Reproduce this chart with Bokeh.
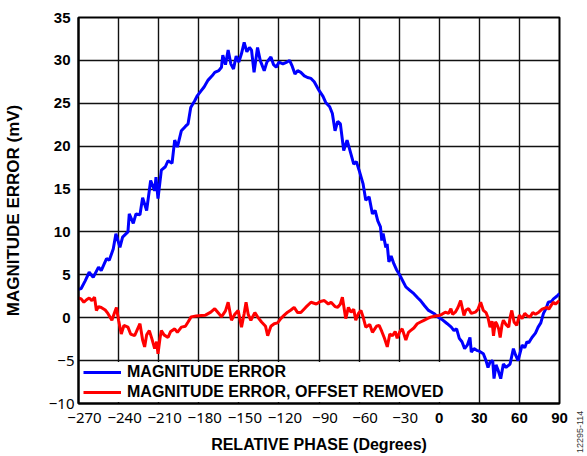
from bokeh.plotting import figure
from bokeh.models import (Range1d, FixedTicker, Legend, LegendItem, LinearAxis, Div)
from bokeh.layouts import row
from bokeh.embed import file_html
from bokeh.resources import INLINE

# ---------------- data ----------------
x_ticks = [-270, -240, -210, -180, -150, -120, -90, -60, -30, 0, 30, 60, 90]
x_tick_labels = ["\u2212270", "\u2212240", "\u2212210", "\u2212180", "\u2212150", "\u2212120",
                 "\u221290", "\u221260", "\u221230", "0", "30", "60", "90"]
y_ticks = [-10, -5, 0, 5, 10, 15, 20, 25, 30, 35]
y_tick_labels = ["\u221210", "\u22125", "0", "5", "10", "15", "20", "25", "30", "35"]

blue_phase = [-270, -268, -265, -262, -259, -255, -253, -249, -247, -244, -242, -239, -237, -233,
              -232, -229, -227, -224, -222, -219, -216, -213, -212, -210.5, -208, -205, -203, -200,
              -198, -196, -193, -190, -188, -186, -183, -181, -178, -176, -173, -170, -168, -165,
              -163, -162, -160, -158, -156, -154, -152, -150, -148, -146, -144, -142, -140.5,
              -138.6, -136, -134, -131, -129, -126, -124, -122, -120, -117, -114, -112, -110, -108,
              -106, -103.6, -101, -98.6, -96, -93.6, -90, -87, -85, -82, -80, -78, -76, -74, -71.5,
              -69, -67, -64, -62, -60, -57, -55, -52.5, -50, -48, -46, -44, -43, -42, -40, -39,
              -37.7, -36, -34, -32, -30, -29, -27, -25, -22, -19, -16, -14, -11, -8, -4, -1, 2, 6,
              9, 11, 13, 15, 17, 19, 21, 23, 24, 26, 28, 30, 33, 35, 36.5, 38, 40, 41, 42.5, 44, 46,
              48, 50, 53, 55.5, 57, 59, 62, 64, 65.6, 67, 69.4, 72, 74, 76, 78, 80, 81.6, 84, 85.5,
              88, 90]
blue_mv = [3.3, 3.4, 4.3, 5.3, 4.7, 5.9, 5.5, 6.9, 6.7, 8.0, 9.8, 8.2, 9.4, 10.0,
           12.1, 11.0, 12.1, 12.0, 14.0, 12.5, 16.0, 14.8, 16.4, 13.9, 17.2, 17.6, 18.3, 18.0,
           20.7, 19.9, 21.8, 22.3, 22.6, 24.5, 25.3, 25.9, 26.5, 26.9, 27.7, 28.2, 28.6, 28.8,
           29.2, 30.6, 29.5, 31.2, 29.6, 29.0, 30.5, 29.8, 30.8, 32.1, 31.0, 31.5, 31.2,
           28.6, 31.5, 30.0, 28.8, 29.8, 30.4, 29.5, 29.2, 29.8, 29.6, 29.8, 30.0, 29.3, 28.4,
           28.8, 28.6, 28.2, 28.0, 27.9, 27.5, 26.5, 25.8, 25.1, 24.6, 23.8, 21.8, 22.9, 22.6, 19.5,
           20.7, 19.6, 17.9, 18.2, 17.2, 15.6, 13.7, 14.1, 12.1, 12.5, 11.3, 10.6, 9.0, 9.8, 8.2, 8.6,
           6.5, 7.2, 6.3, 5.6, 5.1, 4.8, 4.2, 3.6, 3.2, 2.8, 2.3, 2.0, 1.4, 0.85, 0.5, 0.1, -0.2, -0.7,
           -1.1, -1.5, -1.3, -2.4, -2.8, -3.6, -3.2, -2.3, -4.0, -3.6, -3.8, -3.9, -4.2, -5.0, -5.8,
           -5.2, -5.0, -7.1, -5.5, -6.1, -7.1,
           -5.4, -5.8, -5.4, -3.6, -4.3, -5.0, -3.2, -3.5, -2.8, -2.9, -2.3, -1.8, -1.1, -0.6, 0.5,
           1.1, 1.8, 1.9, 2.2, 2.5, 2.8]

red_phase = [-270, -268, -266, -264, -262, -260, -258, -256.6, -255, -253, -250, -248, -245, -243,
             -241.6, -240, -238, -236, -233, -231, -228, -226, -224, -222, -220.5, -219, -217, -215,
             -213, -211.5, -210.5, -209, -208, -206, -203, -201, -198, -196, -193, -190, -188,
             -185.7, -182, -178, -175, -171, -168, -165, -163, -160, -158, -155.5, -153, -150.5,
             -148, -146, -144.6, -143, -141, -138, -136, -133, -130, -128.4, -126, -123.5, -121,
             -118.6, -116, -113.5, -111, -108.6, -106, -103.6, -100, -96, -92, -89, -86, -83, -81,
             -78, -76, -74, -72.5, -70, -68, -66, -64, -62.5, -60.5, -58.6, -57, -55, -52, -50, -47,
             -45, -43, -41, -38.9, -37, -35, -33, -31.5, -29.5, -27.7, -25, -23, -21.5, -19, -16.5,
             -14, -11.5, -9, -6.5, -3, 0, 2, 4.5, 7, 8.7, 10, 12, 14, 16, 18.5, 20, 22, 24, 27, 29,
             31, 33, 35, 36.5, 38, 39.5, 40.6, 42, 43, 44.5, 45.6, 47, 48, 50, 52, 53, 54.3, 56, 58,
             60, 62, 64, 66, 68, 70, 72, 74.5, 77, 80.5, 82, 84, 85.5, 87, 90]
red_mv = [2.3, 2.2, 1.8, 2.1, 2.3, 2.0, 2.4, 0.85, 1.3, 1.2, 0.9, 0.5, -0.3, 0.6,
          1.2, -0.3, -1.9, -0.9, -1.1, -1.9, -2.1, -1.4, -0.7, -2.6, -3.4, -2.0, -1.5, -2.5,
          -3.6, -2.8, -4.2, -2.4, -1.5, -2.0, -2.3, -1.6, -1.3, -1.7, -1.1, -1.0, -0.5,
          0.1, 0.2, 0.27, 0.3, 0.65, 1.05, 0.5, 0.1, 0.8, 1.8, -0.3, 0.4, 0.85,
          -1.1, 0.5, 1.8, 0.4, -0.3, 0.6, 0.1, -0.5, -1.0, -2.1, -1.0, -0.7, -0.6,
          -0.1, 0.3, 0.65, 0.9, 1.2, 0.6, 0.6, 1.2, 1.8, 1.6, 1.9, 2.0, 1.6, 1.8,
          1.3, 1.2, 1.6, 2.4, -0.1, 1.2, 0.65, 1.0, -0.3, 0.5, 0.85, 0.1, -1.1, -0.8, -1.7, -1.0,
          -0.9, -1.6, -2.4, -3.4, -1.9, -2.1, -1.6, -2.4, -1.6, -1.3, -2.6, -1.7, -1.5, -1.2, -0.7,
          -0.5, -0.3, -0.1, 0.07, 0.2, 0.27, 0.4, 0.65, 0.5, 1.05, 0.4, 0.65, 1.2, 2.0, 0.27, 0.9,
          1.05, 0.5, 0.65, 1.0,
          1.8, 0.85, 0.6, 0.0, -1.1, -0.4, -2.1, -0.5, -0.7, -1.3, -2.3, -0.8, -0.3, -0.8, -1.1,
          0.0, 0.85, -0.5, -0.9,
          0.3, -0.1, 0.5, 0.2, 0.1, 0.6, 0.4, 0.65, 1.0, 1.2, 1.0, 1.5, 1.8, 1.6, 2.0]

series_names = ["MAGNITUDE ERROR", "MAGNITUDE ERROR, OFFSET REMOVED"]
x_title = "RELATIVE PHASE (Degrees)"
y_title = "MAGNITUDE ERROR (mV)"
figure_id = "12295-114"

# ---------------- figure ----------------
BOLD_FONT = "Liberation Sans"
REG_FONT = "Noto Sans"
X0, X1 = x_ticks[0], x_ticks[-1]

p = figure(width=575, height=456, output_backend="svg", toolbar_location=None,
           x_range=Range1d(X0, X1), y_range=Range1d(y_ticks[0], y_ticks[-1]),
           min_border_left=77, min_border_right=16, min_border_top=17, min_border_bottom=53)
p.background_fill_color = "white"
p.border_fill_color = "white"
p.outline_line_color = "black"
p.outline_line_width = 2

blue_r = p.line(blue_phase, blue_mv, line_color="#0000FF", line_width=3)
red_r = p.line(red_phase, red_mv, line_color="#FF0000", line_width=3)


def style_axis(ax, font, weight):
    ax.major_tick_out = 0
    ax.major_tick_in = 0
    ax.minor_tick_out = 0
    ax.minor_tick_in = 0
    ax.major_label_text_font = font
    ax.major_label_text_font_style = weight
    ax.major_label_text_font_size = "15px"
    ax.major_label_text_color = "black"
    ax.axis_label_text_font = BOLD_FONT
    ax.axis_label_text_font_style = "bold"
    ax.axis_label_text_color = "black"


# bold (non-negative) tick labels on the main axes
xa = p.xaxis[0]
ya = p.yaxis[0]
xa.ticker = FixedTicker(ticks=[t for t in x_ticks if t >= 0])
ya.ticker = FixedTicker(ticks=[t for t in y_ticks if t >= 0])
xa.major_label_overrides = {t: l for t, l in zip(x_ticks, x_tick_labels) if t >= 0}
ya.major_label_overrides = {t: l for t, l in zip(y_ticks, y_tick_labels) if t >= 0}
for ax in (xa, ya):
    style_axis(ax, BOLD_FONT, "bold")
    ax.axis_line_color = "black"
    ax.axis_line_width = 2
xa.major_label_standoff = 9
ya.major_label_standoff = 8

# regular-weight negative tick labels on companion axes (overlapping the same band)
shift = 6 * (X1 - X0) / 482.0
p.extra_x_ranges = {"neg": Range1d(X0 - shift, X1 - shift)}
xb = LinearAxis(x_range_name="neg")
xb.ticker = FixedTicker(ticks=[t for t in x_ticks if t < 0])
xb.major_label_overrides = {t: l for t, l in zip(x_ticks, x_tick_labels) if t < 0}
style_axis(xb, REG_FONT, "normal")
xb.axis_line_color = None
xb.major_label_standoff = -13
xb.axis_label = x_title
xb.axis_label_text_font_size = "16px"
xb.axis_label_standoff = 10
p.add_layout(xb, "below")

yb = LinearAxis()
yb.ticker = FixedTicker(ticks=[t for t in y_ticks if t < 0])
yb.major_label_overrides = {t: l for t, l in zip(y_ticks, y_tick_labels) if t < 0}
style_axis(yb, REG_FONT, "normal")
yb.axis_line_color = None
yb.major_label_standoff = -24
yb.axis_label = y_title
yb.axis_label_text_font_size = "17px"
yb.axis_label_standoff = 23
p.add_layout(yb, "left")

p.xgrid.ticker = FixedTicker(ticks=x_ticks)
p.ygrid.ticker = FixedTicker(ticks=y_ticks)
for g in (p.xgrid[0], p.ygrid[0]):
    g.grid_line_color = "#111111"
    g.grid_line_width = 1.4

# legend
legend = Legend(items=[LegendItem(label=series_names[0], renderers=[blue_r]),
                       LegendItem(label=series_names[1], renderers=[red_r])],
                location=(5, 1), padding=6, margin=0, spacing=0,
                glyph_width=38, glyph_height=20, label_height=20, label_standoff=6,
                label_text_font=BOLD_FONT, label_text_font_style="bold",
                label_text_font_size="16px", label_text_color="black",
                border_line_color=None, background_fill_color="white",
                background_fill_alpha=1.0)
p.add_layout(legend, "center")

# figure id, rotated, at the right edge
id_div = Div(width=12, height=456, text=(
    '<div style="position:relative;width:12px;height:456px;">'
    '<div style="position:absolute;left:-4px;top:448px;transform:rotate(-90deg);'
    'transform-origin:left top;font-family:\'Liberation Sans\';font-size:9px;'
    'line-height:9px;white-space:nowrap;color:#333333;">' + figure_id + '</div></div>'))

layout = row(p, id_div, spacing=0)
open("out.html", "w").write(file_html(layout, INLINE))
